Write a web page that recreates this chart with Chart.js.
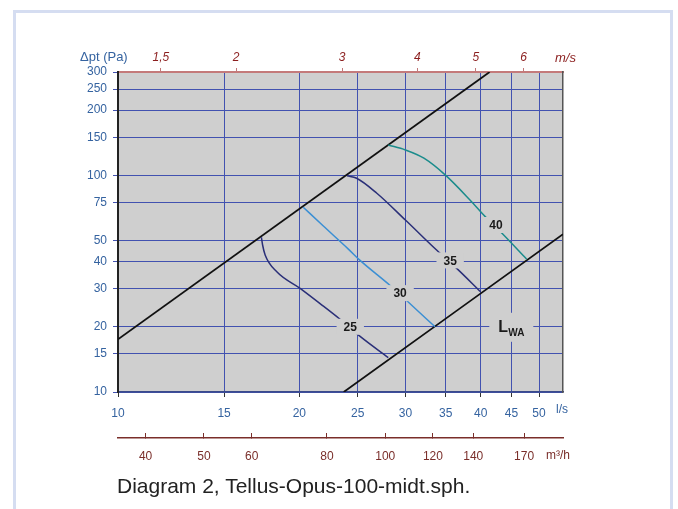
<!DOCTYPE html>
<html>
<head>
<meta charset="utf-8">
<script src="https://cdn.jsdelivr.net/npm/chart.js@4.4.0/dist/chart.umd.min.js"></script>
<style>
  body { margin: 0; background: #fff; width: 678px; height: 509px; overflow: hidden; position: relative; font-family: "Liberation Sans", Arial, sans-serif; }
  #frame { position: absolute; left: 13px; top: 10px; width: 654px; height: 520px; border: 3px solid #d5ddf1; }
  #chart { position: absolute; left: 0; top: 0; }
  #caption { position: absolute; left: 117px; top: 474px; font-size: 21px; line-height: 24px; color: #222; }
</style>
</head>
<body>
<div id="frame"></div>
<canvas id="chart" width="678" height="509"></canvas>
<div id="caption">Diagram 2, Tellus-Opus-100-midt.sph.</div>
<script>
// axis ticks
const flowTicks = [10, 15, 20, 25, 30, 35, 40, 45, 50];             // l/s
const pressureTicks = [10, 15, 20, 30, 40, 50, 75, 100, 150, 200, 250, 300]; // Pa
const velocityTicks = [1.5, 2, 3, 4, 5, 6];                           // m/s
const velocityLabels = ['1,5', '2', '3', '4', '5', '6'];
const airflowM3hTicks = [40, 50, 60, 80, 100, 120, 140, 170];        // m3/h
const flowMin = 10, flowMax = 54.8;
const ductArea = 7.854; // l/s per m/s for a 100 mm duct

// damper limit lines (l/s, Pa)
const upperFlow = [10, 41.4];
const upperPressure = [17.5, 300];
const lowerFlow = [23.7, 54.8];
const lowerPressure = [10, 53.5];

// sound power curves LWA (l/s, Pa)
const lwa25Flow = [17.3, 17.38, 17.55, 18.35, 20.06, 21.65, 23.4, 25.2, 28.1];
const lwa25Pressure = [51.8, 47.7, 42.9, 35.9, 30.1, 25.6, 21.6, 18.1, 14.4];
const lwa30Flow = [20.3, 21.9, 24.1, 25.2, 28.3, 30.2, 33.6];
const lwa30Pressure = [71.3, 58.5, 45.8, 40.6, 31.0, 26.3, 20.0];
const lwa35Flow = [24.0, 24.9, 26.9, 30.0, 33.8, 36.5, 40.0];
const lwa35Pressure = [99.5, 97, 82.7, 62.2, 45.2, 37.2, 29.0];
const lwa40Flow = [28.1, 30.0, 32.2, 35.0, 38.4, 40.7, 43.4, 47.7];
const lwa40Pressure = [138, 131, 120, 100, 77, 64.5, 54, 41];

// curve labels
const curveLabels = ['25', '30', '35', '40'];
const curveLabelFlow = [24.3, 29.4, 35.6, 42.4];
const curveLabelPressure = [20, 28.6, 40.5, 59];

const blue = '#3563a0';
const gridBlue = '#4252b0';
const red = '#8b1e1e';
const brown = '#7a2e2a';

Chart.defaults.font.family = '"Liberation Sans", Arial, sans-serif';
Chart.defaults.font.size = 12;

const pts = (xs, ys) => xs.map((x, i) => ({ x: x, y: ys[i] }));

function line(xs, ys, color, width) {
  return {
    data: pts(xs, ys),
    borderColor: color,
    borderWidth: width,
    showLine: true,
    pointRadius: 0,
    cubicInterpolationMode: 'monotone',
    xAxisID: 'x',
    yAxisID: 'y'
  };
}

const setTicks = (values) => (scale) => { scale.ticks = values.map(v => ({ value: v })); };

const annotations = {
  id: 'annotations',
  beforeDraw(chart) {
    const { ctx, chartArea: a } = chart;
    ctx.save();
    ctx.fillStyle = '#cfcfcf';
    ctx.fillRect(a.left, a.top, a.right - a.left, a.bottom - a.top);
    ctx.restore();
  },
  afterDatasetsDraw(chart) {
    const { ctx, scales } = chart;
    ctx.save();
    ctx.font = 'bold 12px "Liberation Sans", Arial, sans-serif';
    ctx.textAlign = 'center';
    ctx.textBaseline = 'middle';
    curveLabels.forEach((t, i) => {
      const px = scales.x.getPixelForValue(curveLabelFlow[i]);
      const py = scales.y.getPixelForValue(curveLabelPressure[i]);
      const w = ctx.measureText(t).width + 14;
      ctx.fillStyle = '#cfcfcf';
      ctx.fillRect(px - w / 2, py - 8, w, 16);
      ctx.fillStyle = '#1a1a1a';
      ctx.fillText(t, px, py + 1);
    });
    // L_WA label
    const lx = scales.x.getPixelForValue(44.8);
    const ly = scales.y.getPixelForValue(20);
    ctx.fillStyle = '#cfcfcf';
    ctx.fillRect(lx - 21, ly - 14, 44, 29);
    ctx.fillStyle = '#1a1a1a';
    ctx.textAlign = 'left';
    ctx.textBaseline = 'alphabetic';
    ctx.font = 'bold 16px "Liberation Sans", Arial, sans-serif';
    ctx.fillText('L', lx - 12, ly + 5);
    ctx.font = 'bold 10px "Liberation Sans", Arial, sans-serif';
    ctx.fillText('WA', lx - 2, ly + 9);
    ctx.restore();
  },
  afterDraw(chart) {
    const { ctx, chartArea: a } = chart;
    ctx.save();
    ctx.textBaseline = 'middle';
    ctx.textAlign = 'left';
    ctx.font = '13px "Liberation Sans", Arial, sans-serif';
    ctx.fillStyle = blue;
    ctx.fillText('\u0394pt (Pa)', a.left - 38, a.top - 15);
    ctx.font = '12px "Liberation Sans", Arial, sans-serif';
    ctx.fillText('l/s', a.right - 7, a.bottom + 18);
    ctx.fillStyle = brown;
    ctx.fillText('m\u00b3/h', a.right - 17, a.bottom + 64);
    ctx.font = 'italic 13px "Liberation Sans", Arial, sans-serif';
    ctx.fillStyle = red;
    ctx.fillText('m/s', a.right - 8, a.top - 14);
    ctx.restore();
  }
};

new Chart(document.getElementById('chart'), {
  type: 'scatter',
  data: {
    datasets: [
      line(lwa25Flow, lwa25Pressure, '#2a2f78', 1.5),
      line(lwa30Flow, lwa30Pressure, '#3b8fd4', 1.5),
      line(lwa35Flow, lwa35Pressure, '#2a2f78', 1.5),
      line(lwa40Flow, lwa40Pressure, '#1b8c8c', 1.5),
      line(upperFlow, upperPressure, '#111', 1.8),
      line(lowerFlow, lowerPressure, '#111', 1.8)
    ]
  },
  options: {
    responsive: false,
    animation: false,
    layout: { padding: { left: 0, top: 0, right: 115, bottom: 39 } },
    plugins: { legend: { display: false }, tooltip: { enabled: false } },
    scales: {
      x: {
        type: 'logarithmic', position: 'bottom', min: flowMin, max: flowMax,
        afterBuildTicks: setTicks(flowTicks),
        afterFit: (s) => { s.height = 46; },
        ticks: { color: blue, padding: 9, autoSkip: false, maxRotation: 0, callback: (v) => String(v) },
        grid: { color: gridBlue, lineWidth: 1, tickColor: '#333', tickLength: 5 },
        border: { color: '#3a4a8a', width: 1.5 }
      },
      m3h: {
        type: 'logarithmic', position: 'bottom', weight: 1, min: flowMin, max: flowMax,
        afterBuildTicks: (s) => { s.ticks = airflowM3hTicks.map(v => ({ value: v / 3.6 })); },
        afterFit: (s) => { s.height = 32; },
        ticks: { color: brown, padding: 16.5, autoSkip: false, maxRotation: 0, callback: (v, i) => String(airflowM3hTicks[i]) },
        grid: { drawOnChartArea: false, tickColor: brown, tickLength: -5 },
        border: { color: brown, width: 1.5 }
      },
      top: {
        type: 'logarithmic', position: 'top', min: flowMin, max: flowMax,
        afterBuildTicks: (s) => { s.ticks = velocityTicks.map(v => ({ value: v * ductArea })); },
        afterFit: (s) => { s.height = 72; },
        ticks: { color: red, padding: 3, autoSkip: false, maxRotation: 0, font: { style: 'italic', size: 12 }, callback: (v, i) => velocityLabels[i] },
        grid: { drawOnChartArea: false, tickColor: '#c07878', tickLength: 4 },
        border: { color: '#c47a7a', width: 2 }
      },
      y: {
        type: 'logarithmic', position: 'left', min: 10, max: 300,
        afterBuildTicks: setTicks(pressureTicks),
        afterFit: (s) => { s.width = 118; },
        ticks: { color: blue, padding: 6, autoSkip: false, callback: (v) => String(v) },
        grid: { color: gridBlue, lineWidth: 1, tickColor: gridBlue, tickLength: 5 },
        border: { color: '#222', width: 2 }
      },
      right: {
        type: 'logarithmic', position: 'right', min: 10, max: 300,
        afterFit: (s) => { s.width = 0; },
        ticks: { display: false },
        grid: { drawOnChartArea: false, drawTicks: false },
        border: { color: '#555', width: 1.5 }
      }
    }
  },
  plugins: [annotations]
});
</script>
</body>
</html>
